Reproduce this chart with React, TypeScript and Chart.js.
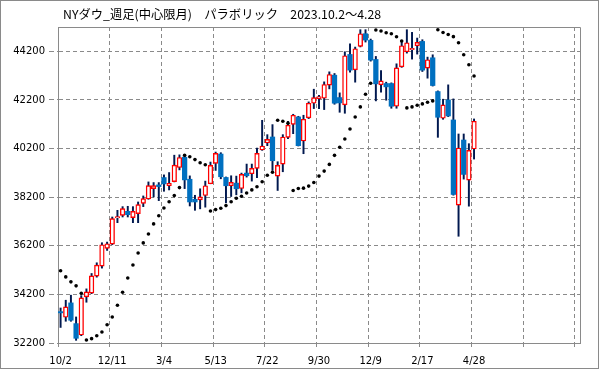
import React, { useEffect, useRef } from 'react';
import { Chart, registerables } from 'chart.js';

Chart.register(...registerables);

// ---- data ----
const titleText = 'NYダウ_週足(中心限月)　パラボリック　2023.10.2～4.28';
const tickLabels = ['10/2', '12/11', '3/4', '5/13', '7/22', '9/30', '12/9', '2/17', '4/28'];
const categoryCount = 101; // weekly slots on the axis (data fills the first 81)
const yTicks = [32200, 34200, 36200, 38200, 40200, 42200, 44200];
const yMin = 32200;
const yMax = 45200;

const opens = [
  33490, 33259, 33850, 32998, 32530, 34097, 34249, 34950, 35362, 36091,
  36270, 37342, 37452, 37617, 37356, 37521, 37947, 38126, 38552, 38704,
  39006, 38676, 38841, 39419, 39845, 38937, 38112, 38090, 38269, 38750,
  39589, 39974, 39011, 38668, 38777, 38557, 39190, 39162, 39382, 40139,
  40427, 40675, 39066, 39561, 40661, 41197, 41500, 40510, 41459, 42064,
  42256, 42270, 42806, 43219, 42297, 41995, 44071, 43439, 44401, 44924,
  44649, 43865, 42820, 42875, 42875, 41940, 43562, 44181, 44264, 44429,
  44607, 43507, 43934, 42545, 41445, 42201, 41376, 37870, 40551, 38901,
  40180,
];
const highs = [
  33640, 33960, 34166, 33272, 34150, 34427, 35060, 35500, 36325, 36352,
  37384, 37659, 37810, 37824, 37810, 38002, 38250, 38827, 38800, 38800,
  39116, 39212, 39927, 39941, 39955, 39075, 38277, 38544, 38860, 39644,
  40056, 40029, 39030, 39080, 39066, 39190, 39561, 39561, 40221, 41362,
  40771, 41184, 39657, 40771, 41321, 41610, 41527, 41569, 42119, 42641,
  42394, 42944, 43356, 43287, 42490, 44181, 44511, 44374, 45089, 45089,
  44704, 43989, 43411, 42930, 42902, 43686, 44621, 45089, 44979, 44745,
  44676, 43961, 44057, 42572, 42229, 42820, 42242, 40799, 40799, 40400,
  41417,
];
const lows = [
  32840, 33094, 33094, 32310, 32500, 33877, 34230, 34909, 35280, 36009,
  36242, 37150, 37384, 37384, 37150, 37150, 37810, 38112, 38209, 38057,
  38442, 38497, 38827, 39322, 38552, 37837, 37659, 37719, 37788, 38750,
  39300, 38956, 37966, 38227, 38296, 38379, 39025, 38860, 38997, 40125,
  40317, 39300, 38475, 39245, 40606, 40812, 40304, 39987, 41431, 41844,
  41844, 41803, 42655, 42022, 41692, 41651, 43342, 42930, 44380, 44580,
  43796, 42160, 42517, 42187, 41857, 41857, 43540, 44126, 43879, 44085,
  43370, 43095, 42770, 40661, 41404, 41514, 38282, 36591, 38942, 37829,
  39767,
];
const closes = [
  33440, 33685, 33135, 32393, 34056, 34304, 34964, 35404, 36242, 36284,
  37315, 37397, 37727, 37480, 37617, 37892, 38140, 38676, 38676, 38635,
  38745, 38772, 39515, 39831, 38910, 38002, 38002, 38214, 38668, 39506,
  40001, 39039, 38668, 38805, 38544, 39135, 39080, 39382, 40001, 40304,
  40579, 39699, 39506, 40675, 41156, 41569, 40317, 41404, 42064, 42297,
  42339, 42834, 43246, 42064, 42077, 44016, 43425, 44305, 44924, 44662,
  43837, 42861, 42985, 42737, 41940, 43521, 44429, 44552, 44319, 44566,
  43425, 43851, 42792, 41486, 41995, 41541, 38310, 40221, 39135, 40125,
  41321,
];
const sar = [
  35170, 34920, 34716, 34551, 34249, 32324, 32379, 32500, 32650, 32950,
  33268, 33755, 34290, 34875, 35410, 35905, 36318, 36682, 37100, 37432,
  37755, 38009, 38263, 38593, 39920, 39865, 39745, 39615, 39530, 37630,
  37687, 37742, 37853, 38012, 38155, 38237, 38369, 38499, 38630, 38835,
  39100, 39222, 41362, 41321, 41245, 38475, 38557, 38571, 38654, 38805,
  39066, 39272, 39547, 39919, 40250, 40593, 41005, 41500, 41912, 42435,
  42889, 45075, 45034, 44965, 44924, 44800, 44625, 41871, 41912, 41981,
  42036, 42105, 42160, 45089, 44975, 44892, 44803, 44555, 44060, 43648,
  43187,
];

// ---- styles ----
const UP_BORDER = '#ff0000';
const DOWN_FILL = '#0070c0';
const WICK = '#00184f';
const GRID = '#8a8a8a';
const FRAME = '#8a8a8a';

const categories = Array.from({ length: categoryCount }, (_, i) =>
  i % 10 === 0 && tickLabels[i / 10] !== undefined ? tickLabels[i / 10] : ''
);

const isUp = (i: number) => closes[i] >= opens[i];

const framePlugin = {
  id: 'frame',
  afterDraw(chart: any) {
    const { ctx, chartArea } = chart;
    const t = Math.round(chartArea.top - 0.5) + 0.5;
    const r = Math.round(chartArea.right - 0.5) + 0.5;
    const l = Math.round(chartArea.left - 0.5) + 0.5;
    const b = Math.round(chartArea.bottom - 0.5) + 0.5;
    ctx.save();
    ctx.strokeStyle = FRAME;
    ctx.lineWidth = 1;
    ctx.beginPath();
    ctx.moveTo(l, t);
    ctx.lineTo(r, t);
    ctx.lineTo(r, b);
    ctx.stroke();
    // title
    ctx.fillStyle = '#000';
    ctx.font = '12.3px "Noto Sans CJK JP"';
    ctx.textBaseline = 'middle';
    ctx.textAlign = 'left';
    ctx.fillText(titleText, chartArea.left + 5, 13);
    ctx.restore();
  },
};

export default function App() {
  const ref = useRef<HTMLCanvasElement>(null);
  useEffect(() => {
    if (!ref.current) return;
    const chart = new Chart(ref.current, {
      type: 'bar',
      data: {
        labels: categories,
        datasets: [
          {
            type: 'line',
            label: 'SAR',
            data: sar,
            showLine: false,
            pointRadius: 1.8,
            pointStyle: 'circle',
            pointBackgroundColor: '#000',
            pointBorderWidth: 0,
            borderColor: '#000',
          } as any,
          {
            label: 'body',
            data: opens.map((o, i) => [Math.min(o, closes[i]), Math.max(o, closes[i])]),
            grouped: false,
            barThickness: 4.6,
            borderSkipped: false,
            backgroundColor: opens.map((_, i) => (isUp(i) ? '#ffffff' : DOWN_FILL)),
            borderColor: opens.map((_, i) => (isUp(i) ? UP_BORDER : DOWN_FILL)),
            borderWidth: opens.map((_, i) => (isUp(i) ? 1.4 : 0)),
          } as any,
          {
            label: 'wick',
            data: lows.map((l, i) => [l, highs[i]]),
            grouped: false,
            barThickness: 1.3,
            borderSkipped: false,
            backgroundColor: WICK,
            borderWidth: 0,
          } as any,
        ],
      },
      options: {
        responsive: false,
        animation: false,
        events: [],
        layout: { padding: { left: 0, top: 26, right: 18, bottom: 0 } },
        plugins: {
          legend: { display: false },
          tooltip: { enabled: false },
          title: { display: false },
        },
        scales: {
          x: {
            type: 'category',
            offset: true,
            afterFit: (s: any) => {
              s.height = 25;
            },
            grid: {
              offset: true,
              lineWidth: 1,
              tickLength: 4,
              color: (c: any) => (c.index % 10 === 0 ? GRID : 'rgba(0,0,0,0)'),
              tickColor: (c: any) => (c.index % 10 === 0 ? GRID : 'rgba(0,0,0,0)'),
            },
            border: { display: true, color: FRAME, width: 1, dash: [4, 3] },
            ticks: {
              autoSkip: false,
              maxRotation: 0,
              minRotation: 0,
              padding: 8,
              color: '#000',
              font: { family: 'DejaVu Sans', size: 10 },
            },
          },
          y: {
            type: 'linear',
            min: yMin,
            max: yMax,
            afterFit: (s: any) => {
              s.width = 57;
            },
            afterBuildTicks: (s: any) => {
              s.ticks = yTicks.map((v) => ({ value: v }));
            },
            grid: {
              lineWidth: 1,
              tickLength: 9,
              color: GRID,
              tickColor: GRID,
              tickBorderDash: [5, 3],
            },
            border: { display: true, color: FRAME, width: 1, dash: [4, 3] },
            ticks: {
              padding: 4,
              color: '#000',
              font: { family: 'DejaVu Sans', size: 10 },
              callback: (v: any) => String(v),
            },
          },
        },
      } as any,
      plugins: [framePlugin],
    });
    return () => chart.destroy();
  }, []);

  return (
    <div
      style={{
        position: 'absolute',
        left: 0,
        top: 0,
        width: 599,
        height: 369,
        boxSizing: 'border-box',
        border: '1px solid #8a8a8a',
        background: '#ffffff',
      }}
    >
      <canvas ref={ref} width={597} height={367} style={{ display: 'block', width: 597, height: 367 }} />
    </div>
  );
}
